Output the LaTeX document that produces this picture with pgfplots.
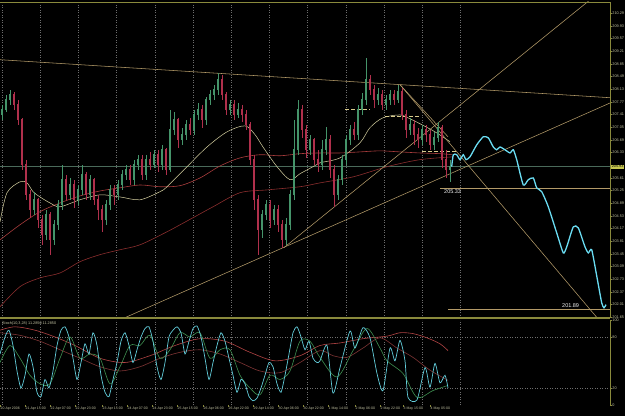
\documentclass[border=0pt]{standalone}
\usepackage{pgfplots}
\pgfplotsset{compat=1.18}
\usepackage{pgfplotstable}
\usepackage{fontspec}
\setmainfont{Liberation Sans}

\definecolor{frame}{HTML}{8A8A3C}
\definecolor{gridc}{HTML}{6E6E6E}
\definecolor{labc}{HTML}{C4C4A4}
\definecolor{upc}{HTML}{45946A}
\definecolor{dnc}{HTML}{B0304C}
\definecolor{trend}{HTML}{B39A68}
\definecolor{maone}{HTML}{D8D2A2}
\definecolor{matwo}{HTML}{A83C3C}
\definecolor{mathree}{HTML}{8A2E2E}
\definecolor{fc}{HTML}{6ADCF2}
\definecolor{pivot}{HTML}{D8CB8C}
\definecolor{bid}{HTML}{4A6A5A}
\definecolor{stk}{HTML}{62CCDA}
\definecolor{stg}{HTML}{3E8E50}
\definecolor{str}{HTML}{B24444}
\definecolor{stdr}{HTML}{7E3434}
\definecolor{hl}{HTML}{C8C850}

% rising candles: x open high low close
\pgfplotstableread{
x o h l c
2 207.40 207.69 207.26 207.55
6 207.55 207.97 207.49 207.83
10 207.83 208.11 207.69 207.97
34 204.70 205.22 204.56 204.99
46 203.99 204.70 203.85 204.56
54 203.85 204.42 203.71 204.28
58 204.28 204.99 204.14 204.85
62 204.85 205.98 204.70 205.56
70 205.13 205.61 204.99 205.41
78 204.99 205.41 204.85 205.27
82 205.27 205.98 205.13 205.70
90 205.13 205.70 204.99 205.56
106 204.42 204.99 204.28 204.85
110 204.85 205.41 204.70 205.27
118 205.13 205.56 204.99 205.41
122 205.41 205.84 205.27 205.70
126 205.70 205.98 205.56 205.84
134 205.56 206.13 205.41 205.98
138 205.98 206.27 205.84 206.13
146 205.70 206.27 205.56 206.13
154 205.98 206.41 205.90 206.27
162 205.98 206.55 205.84 206.41
170 205.84 207.55 205.79 206.98
174 206.98 207.49 206.84 207.26
182 206.69 207.04 206.55 206.84
186 206.84 207.26 206.69 207.12
194 206.98 207.55 206.84 207.40
198 207.40 207.74 207.26 207.55
206 207.26 207.91 207.12 207.83
210 207.83 208.11 207.69 207.97
214 207.97 208.26 207.83 208.11
218 208.11 208.60 207.97 208.40
230 207.55 207.83 207.40 207.69
238 207.40 207.74 207.32 207.55
262 204.14 204.70 203.91 204.56
266 204.56 204.99 204.42 204.85
274 204.42 204.85 204.28 204.70
286 203.85 204.48 203.71 204.28
290 204.28 205.27 204.14 205.13
294 205.13 207.26 204.99 206.41
298 206.41 207.83 206.27 207.55
310 206.41 206.84 206.27 206.69
322 205.98 206.69 205.84 206.41
326 206.41 207.06 206.27 206.69
338 205.13 205.70 204.99 205.56
342 205.56 206.27 205.41 206.13
346 206.13 206.84 205.98 206.69
350 206.69 207.12 206.55 206.98
358 206.84 207.69 206.69 207.55
362 207.55 208.03 207.40 207.83
366 207.83 209.02 207.69 208.40
378 207.83 208.17 207.69 207.97
386 207.69 207.97 207.55 207.83
390 207.83 208.11 207.69 207.97
398 207.83 208.26 207.74 208.06
410 206.98 207.32 206.84 207.12
422 206.69 207.12 206.55 206.98
434 206.55 206.92 206.41 206.75
438 206.75 207.21 206.64 207.04
450 205.84 206.13 205.50 205.93
}\upcandles

% falling candles: x open high low close
\pgfplotstableread{
x o h l c
14 207.97 208.06 207.55 207.69
18 207.69 207.83 207.12 207.26
22 207.26 207.32 205.84 205.98
26 205.98 206.13 204.99 205.13
30 205.13 205.27 204.48 204.70
38 204.99 205.05 204.19 204.42
42 204.42 204.56 203.71 203.99
50 204.56 204.65 203.43 203.85
66 205.56 205.70 204.99 205.13
74 205.41 205.56 204.76 204.99
86 205.70 205.79 204.99 205.13
94 205.56 205.61 204.85 204.99
98 204.99 205.13 204.42 204.70
102 204.70 204.85 204.08 204.42
114 205.27 205.41 204.85 205.13
130 205.84 205.98 205.41 205.56
142 206.13 206.27 205.56 205.70
150 206.13 206.35 205.84 205.98
158 206.27 206.41 205.79 205.98
166 206.41 206.47 205.70 205.84
178 207.26 207.32 206.47 206.69
190 207.12 207.32 206.84 206.98
202 207.55 207.69 207.04 207.26
222 208.40 208.54 207.83 207.97
226 207.97 208.06 207.40 207.55
234 207.69 207.83 207.26 207.40
242 207.55 207.69 207.21 207.40
246 207.40 207.55 206.98 207.12
250 207.12 207.21 205.98 206.13
254 206.13 206.27 204.70 204.99
258 204.99 205.13 203.43 204.14
270 204.85 204.99 204.19 204.42
278 204.70 204.85 204.08 204.28
282 204.28 204.42 203.63 203.85
302 207.55 207.69 206.75 206.98
306 206.98 207.12 206.18 206.41
314 206.69 206.75 205.98 206.13
318 206.13 206.41 205.79 205.98
330 206.69 206.84 205.61 205.84
334 205.84 205.98 204.79 205.13
354 206.98 207.21 206.69 206.84
370 208.40 208.54 207.97 208.11
374 208.11 208.26 207.60 207.83
382 207.97 208.11 207.55 207.69
394 207.97 208.11 207.69 207.83
402 208.06 208.17 207.26 207.40
406 207.40 207.55 206.75 206.98
414 207.12 207.26 206.55 206.84
418 206.84 207.04 206.47 206.69
426 206.98 207.12 206.64 206.84
430 206.84 206.98 206.41 206.55
442 207.04 207.12 205.90 206.13
446 206.13 206.41 205.61 205.84
}\dncandles

\newcommand\tinyf{\fontsize{3.8}{4}\selectfont}

\begin{document}
\begin{tikzpicture}
\fill[black] (0pt,0pt) rectangle (625pt,416pt);

% ---------------- main price panel ----------------
\begin{axis}[
  at={(0pt,98pt)}, anchor=south west,
  width=610pt, height=316pt, scale only axis,
  xmin=0, xmax=610, ymin=201.63, ymax=210.61,
  axis x line=none, axis y line*=right,
  y axis line style={draw=frame, line width=0.6pt},
  ytick={201.65,202.01,202.37,202.73,203.09,203.45,203.81,204.17,204.53,204.89,205.25,205.61,206.33,206.69,207.05,207.41,207.77,208.13,208.49,208.85,209.21,209.57,209.93,210.29},
  yticklabels={201.65,202.01,202.37,202.73,203.09,203.45,203.81,204.17,204.53,204.89,205.25,205.61,206.33,206.69,207.05,207.41,207.77,208.13,208.49,208.85,209.21,209.57,209.93,210.29},
  yticklabel style={font=\tinyf, text=labc, inner sep=0.6pt},
  ytick style={draw=frame, line width=0.4pt},
  major tick length=1.6pt, tick align=outside,
  clip=true,
]
\pgfplotsinvokeforeach{2,40.2,78.4,116.6,154.8,193,231.2,269.4,307.6,345.8,384,422.2,460.4}{
  \draw[gridc, line width=0.4pt, dash pattern=on 0.8pt off 1.7pt] (axis cs:#1,201.63) -- (axis cs:#1,210.61);
}
% bid line
\addplot[bid, line width=0.5pt, forget plot] coordinates {(0,205.93) (610,205.93)};

% moving averages
\addplot[mathree, line width=0.6pt, smooth, tension=0.5] coordinates {
(0,201.95)(20,202.52)(40,202.77)(60,202.91)(80,203.23)(100,203.43)(120,203.57)(140,203.71)(167,204.08)(193,204.48)(213,204.79)(240,205.19)(267,205.27)(300,205.36)(320,205.47)(353,205.64)(387,205.93)(420,206.13)(453,206.21)};
\addplot[matwo, line width=0.6pt, smooth, tension=0.5] coordinates {
(0,203.85)(20,204.28)(40,204.65)(60,204.90)(80,205.10)(100,205.24)(120,205.33)(140,205.41)(160,205.36)(180,205.39)(200,205.61)(220,205.95)(240,206.18)(260,206.27)(280,206.24)(300,206.30)(320,206.32)(340,206.32)(360,206.35)(380,206.38)(400,206.35)(420,206.32)(440,206.30)(452,206.27)};
\addplot[maone, line width=0.5pt, smooth, tension=0.5] coordinates {
(0,204.36)(7,205.19)(20,205.50)(27,205.47)(33,205.22)(40,205.07)(50,204.90)(60,204.79)(80,204.99)(100,205.13)(120,205.07)(140,204.99)(160,205.22)(167,205.36)(187,205.93)(207,206.49)(227,206.92)(245,207.09)(255,206.84)(263,206.49)(277,205.93)(290,205.56)(300,205.73)(313,205.93)(320,206.04)(340,206.18)(360,206.61)(370,207.04)(383,207.32)(400,207.40)(410,207.29)(420,207.15)(435,206.92)(450,206.64)};

% trend lines
\addplot[trend, line width=0.55pt] coordinates {(0,208.97) (610,207.89)};
\addplot[trend, line width=0.55pt] coordinates {(125,201.64) (610,207.74)};
\addplot[trend, line width=0.55pt] coordinates {(284,203.63) (590,210.67)};
\addplot[trend, line width=0.55pt] coordinates {(400,208.26) (597,201.64)};
\addplot[trend, line width=0.55pt] coordinates {(400,208.26) (448,206.78)};
\addplot[trend, line width=0.55pt] coordinates {(440,205.33) (610,205.33)};
\addplot[trend, line width=0.55pt] coordinates {(448,201.89) (610,201.89)};
% pivot dashes
\addplot[pivot, line width=1pt, dash pattern=on 4pt off 2pt] coordinates {(345,207.55) (370,207.55)};
\addplot[pivot, line width=1pt, dash pattern=on 4pt off 2pt] coordinates {(385,207.35) (420,207.35)};
\addplot[pivot, line width=1pt, dash pattern=on 4pt off 2pt] coordinates {(422,206.35) (457,206.35)};

% candles: wicks (low to high) and bodies (open to close)
\addplot[upc, line width=0.6pt, quiver={u=0, v={\thisrow{h}-\thisrow{l}}}]
  table[x=x, y=l] {\upcandles};
\addplot[dnc, line width=0.6pt, quiver={u=0, v={\thisrow{h}-\thisrow{l}}}]
  table[x=x, y=l] {\dncandles};
\addplot[upc, line width=1.8pt, quiver={u=0, v={\thisrow{c}-\thisrow{o}+0.015}}]
  table[x=x, y=o] {\upcandles};
\addplot[dnc, line width=1.8pt, quiver={u=0, v={\thisrow{o}-\thisrow{c}+0.015}}]
  table[x=x, y=c] {\dncandles};

% forecast path
\addplot[fc, line width=1.3pt, smooth, tension=0.35] coordinates {
(451.7,205.93)(453.3,206.27)(456.7,206.27)(460,206.13)(463.3,206.27)(466,206.13)(470,206.21)(476.7,206.55)(483.3,206.78)(488.3,206.75)(493.3,206.49)(496.7,206.41)(500,206.49)(505,206.41)(510,206.32)(513.3,206.41)(516.7,206.13)(523.3,205.41)(528.3,205.56)(533.3,205.61)(536.7,205.33)(541.7,205.22)(548.3,204.79)(556.7,204.05)(563.3,203.48)(566.7,203.65)(573.3,204.22)(578.3,204.19)(585,203.65)(588.3,203.48)(591.7,203.57)(596.7,202.83)(601.7,202.06)(604,201.92)(606,202.01)};

\node[anchor=north west, inner sep=0pt, font=\fontsize{5.5}{6}\selectfont, text=white!88!gray] at (axis cs:444,205.28) {205.33};
\node[anchor=south west, inner sep=0pt, font=\fontsize{5.5}{6}\selectfont, text=white!88!gray] at (axis cs:562,201.93) {201.89};
\end{axis}
% highlighted current price label
\node[anchor=west, fill=hl, text=black, inner sep=0.6pt, font=\tinyf] at (611pt,{98pt+(205.93-201.63)*316pt/8.98}) {205.93};

% ---------------- oscillator panel ----------------
\begin{axis}[
  at={(0pt,11pt)}, anchor=south west,
  width=610pt, height=85pt, scale only axis,
  xmin=0, xmax=610, ymin=0, ymax=100,
  axis x line*=bottom, axis y line*=right,
  x axis line style={draw=none},
  y axis line style={draw=frame, line width=0.6pt},
  xtick={0,25,50,75,102,127,152,177,203,228,253,278,303,328,355,380,403,430},
  xticklabels={20 Apr 2006,21 Apr 15:00,22 Apr 07:00,22 Apr 23:00,23 Apr 15:00,24 Apr 07:00,24 Apr 23:00,25 Apr 15:00,26 Apr 06:00,26 Apr 22:00,29 Apr 14:00,30 Apr 06:00,30 Apr 22:00,1 May 14:00,2 May 06:00,2 May 22:00,3 May 15:00,4 May 05:00},
  xticklabel style={font=\fontsize{3.5}{4}\selectfont, text=labc, anchor=north west, inner sep=0.5pt},
  ytick={0,20,80,100}, yticklabels={0,20,80,100},
  yticklabel style={font=\tinyf, text=labc, inner sep=0.6pt},
  tick style={draw=frame, line width=0.4pt},
  major tick length=1.6pt, tick align=outside,
  clip=true,
]
\pgfplotsinvokeforeach{2,40.2,78.4,116.6,154.8,193,231.2,269.4,307.6,345.8,384,422.2,460.4}{
  \draw[gridc, line width=0.4pt, dash pattern=on 0.8pt off 1.7pt] (axis cs:#1,0) -- (axis cs:#1,100);
}
\draw[gridc, line width=0.4pt, dash pattern=on 0.8pt off 1.7pt] (axis cs:0,80) -- (axis cs:610,80);
\draw[gridc, line width=0.4pt, dash pattern=on 0.8pt off 1.7pt] (axis cs:0,20) -- (axis cs:610,20);

\addplot[stdr, line width=0.6pt, smooth] coordinates {
(0,85)(20,82)(40,75)(60,65)(80,55)(100,45)(120,40)(140,45)(160,55)(180,62)(200,65)(220,60)(240,50)(260,40)(280,38)(300,50)(320,64)(333,58)(347,56)(363,67)(380,79)(397,67)(413,56)(430,41)(448,29)};
\addplot[str, line width=0.6pt, smooth] coordinates {
(0,88)(15,92)(35,88)(55,80)(75,70)(100,55)(125,50)(150,58)(175,70)(200,78)(225,75)(250,62)(275,52)(300,58)(320,70)(340,73)(363,78)(387,81)(400,85)(413,84)(427,79)(440,72)(448,64)};
\addplot[stg, line width=0.6pt, smooth] coordinates {
(0,50)(10,70)(20,55)(30,35)(40,25)(50,25)(60,55)(70,80)(80,55)(90,60)(100,55)(110,25)(120,45)(130,70)(140,70)(150,82)(160,55)(170,65)(180,85)(190,80)(200,85)(210,55)(220,65)(230,65)(240,35)(250,20)(260,12)(270,35)(280,30)(290,40)(300,75)(310,75)(320,56)(337,33)(353,64)(367,90)(380,67)(387,52)(403,37)(417,9)(433,17)(448,23)};
\addplot[stk, line width=0.7pt, smooth, tension=0.4] coordinates {
(0,60)(5,80)(9,88)(13,70)(17,40)(21,20)(25,35)(29,60)(33,45)(37,15)(41,10)(45,30)(49,20)(53,40)(57,70)(61,88)(65,92)(69,80)(73,55)(77,30)(81,50)(85,72)(89,60)(93,85)(97,70)(101,35)(105,15)(109,10)(113,30)(117,50)(121,75)(125,85)(129,70)(133,50)(137,65)(141,80)(145,90)(149,92)(153,75)(157,45)(161,30)(165,50)(169,80)(173,88)(177,92)(181,85)(185,60)(189,75)(193,90)(197,93)(201,80)(205,55)(209,30)(213,50)(217,70)(221,85)(225,75)(229,55)(233,35)(237,15)(241,30)(245,25)(249,10)(253,5)(257,8)(261,20)(265,35)(269,50)(273,45)(277,25)(281,15)(285,35)(289,60)(293,85)(297,92)(301,80)(305,65)(309,75)(313,55)(317,50)(320,52)(327,70)(333,14)(340,44)(350,87)(355,67)(363,91)(370,79)(377,37)(383,17)(390,67)(395,52)(400,76)(405,52)(408,9)(417,6)(425,44)(430,21)(435,49)(440,26)(445,35)(448,20)};

\node[anchor=west, inner sep=0pt, font=\tinyf, text=labc] at (axis cs:2,96) {Stoch(10,3,28) 11.2850 11.2850};
\end{axis}

\draw[frame, line width=0.8pt] (0pt,414pt) -- (610pt,414pt);
\draw[frame, line width=1.4pt] (0pt,98pt) -- (610pt,98pt);

\pgfresetboundingbox
\path[use as bounding box] (0pt,0pt) rectangle (625pt,416pt);
\end{tikzpicture}
\end{document}
